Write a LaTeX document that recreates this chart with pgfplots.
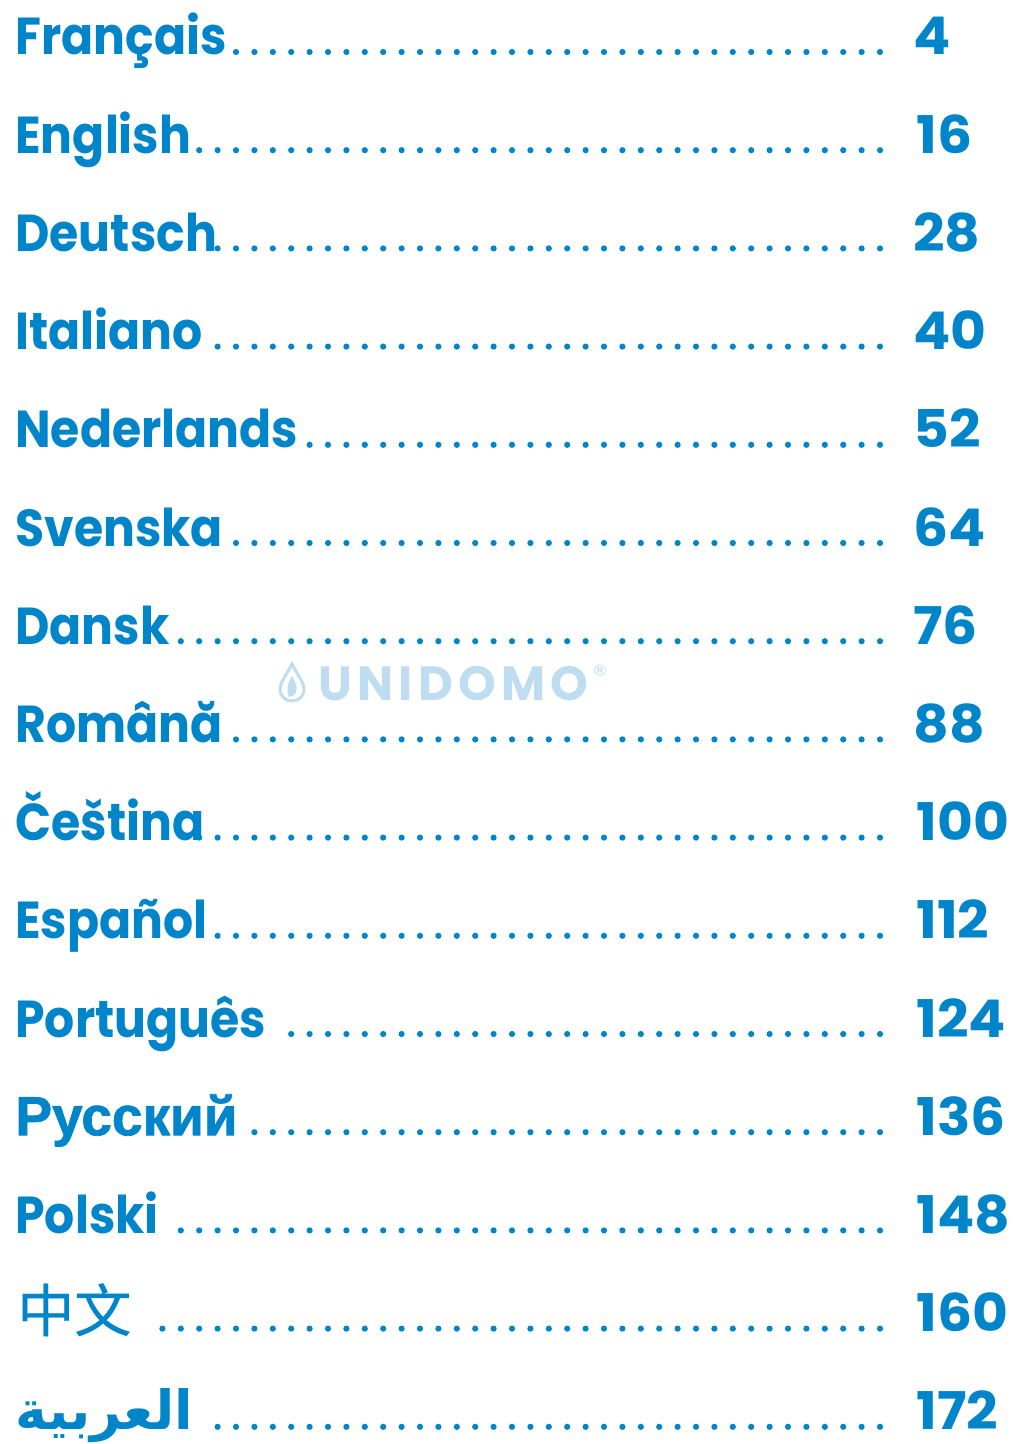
\documentclass[border=0pt]{standalone}
\usepackage{pgfplots}
\pgfplotsset{compat=1.18}
\usepackage{fontspec}
\setmainfont{Poppins}[FakeStretch=0.91]
\newfontfamily\numfont{Poppins}[FakeStretch=1.06]
\newfontfamily\wmfont{Poppins}[LetterSpace=11]
\newfontfamily\rufont{Liberation Sans}[UprightFont={* Bold}, BoldFont={* Bold}, FakeBold=1.4]
\newfontfamily\symfont{DejaVu Sans}
\newfontfamily\cjk{Noto Sans CJK SC}[FakeBold=0.6]
\newfontfamily\arabicfont[Script=Arabic]{DejaVu Sans}
\TeXXeTstate=1
\definecolor{tocblue}{HTML}{0085CA}
\definecolor{wmblue}{HTML}{BEDDF0}
\begin{document}
\begin{tikzpicture}
\begin{axis}[
  scale only axis, width=509.5pt, height=722pt,
  xmin=0, xmax=1019, ymin=0, ymax=1444, y dir=reverse,
  hide axis, clip=false,
]
\pgfplotsset{dots/.style={tocblue, line width=3.1pt, line cap=round, dash pattern=on 0pt off 9.2pt}}
\addplot[dots] coordinates {(880,52) (233,52)};
\addplot[dots] coordinates {(880,150.2) (196,150.2)};
\addplot[dots] coordinates {(880,248.4) (214,248.4)};
\addplot[dots] coordinates {(880,346.6) (214,346.6)};
\addplot[dots] coordinates {(880,444.8) (306,444.8)};
\addplot[dots] coordinates {(880,543) (233,543)};
\addplot[dots] coordinates {(880,641.2) (178,641.2)};
\addplot[dots] coordinates {(880,739.4) (233,739.4)};
\addplot[dots] coordinates {(880,837.6) (196,837.6)};
\addplot[dots] coordinates {(880,935.8) (214,935.8)};
\addplot[dots] coordinates {(880,1034) (288,1034)};
\addplot[dots] coordinates {(880,1132.2) (251,1132.2)};
\addplot[dots] coordinates {(880,1230.4) (178,1230.4)};
\addplot[dots] coordinates {(880,1328.6) (159,1328.6)};
\addplot[dots] coordinates {(880,1426.8) (214,1426.8)};
% labels
\tikzset{lab/.style={anchor=base west, inner sep=0pt, text=tocblue, font=\fontsize{26}{30}\selectfont\bfseries}}
\node[lab] at (axis cs:15,55) {Français};
\node[lab] at (axis cs:15,153.2) {English};
\node[lab] at (axis cs:15,251.4) {Deutsch};
\node[lab] at (axis cs:15,349.6) {Italiano};
\node[lab] at (axis cs:15,447.8) {Nederlands};
\node[lab] at (axis cs:15,546) {Svenska};
\node[lab] at (axis cs:15,644.2) {Dansk};
\node[lab] at (axis cs:15,742.4) {Română};
\node[lab] at (axis cs:15,840.6) {Čeština};
\node[lab] at (axis cs:15,938.8) {Español};
\node[lab] at (axis cs:15,1037) {Português};
\node[lab, font=\fontsize{27.5}{30}\selectfont\rufont] at (axis cs:15,1135.2) {Русский};
\node[lab] at (axis cs:15,1233.4) {Polski};
\node[lab, font=\fontsize{28.5}{30}\selectfont\cjk] at (axis cs:17,1331.6) {中文};
\node[lab, font=\fontsize{27}{30}\selectfont\arabicfont\bfseries] at (axis cs:15,1429.8) {\beginR العربية\endR};
% page numbers
\tikzset{num/.style={lab, font=\fontsize{26}{30}\selectfont\numfont\bfseries}}
\node[num] at (axis cs:913,55) {4};
\node[num] at (axis cs:916,153.2) {16};
\node[num] at (axis cs:913,251.4) {28};
\node[num] at (axis cs:913,349.6) {40};
\node[num] at (axis cs:913,447.8) {52};
\node[num] at (axis cs:913,546) {64};
\node[num] at (axis cs:913,644.2) {76};
\node[num] at (axis cs:913,742.4) {88};
\node[num] at (axis cs:916,840.6) {100};
\node[num] at (axis cs:916,938.8) {112};
\node[num] at (axis cs:916,1037) {124};
\node[num] at (axis cs:916,1135.2) {136};
\node[num] at (axis cs:916,1233.4) {148};
\node[num] at (axis cs:916,1331.6) {160};
\node[num] at (axis cs:916,1429.8) {172};
% watermark
\node[anchor=base west, inner sep=0pt, text=wmblue, font=\fontsize{24}{26}\selectfont\wmfont\bfseries] at (axis cs:318,700) {UNIDOMO};
\node[anchor=center, inner sep=0pt, text=wmblue, font=\fontsize{8}{8}\selectfont\symfont] at (axis cs:600,671) {®};
\draw[wmblue, line width=1.5pt] (axis cs:292,664) .. controls (axis cs:286,676) and (axis cs:280,682) .. (axis cs:280,689) .. controls (axis cs:280,697) and (axis cs:286,701) .. (axis cs:292,701) .. controls (axis cs:298,701) and (axis cs:304,697) .. (axis cs:304,689) .. controls (axis cs:304,682) and (axis cs:298,676) .. (axis cs:292,664) -- cycle;
\fill[wmblue] (axis cs:292,676) .. controls (axis cs:287,684) and (axis cs:286,690) .. (axis cs:289,697) .. controls (axis cs:295,697) and (axis cs:299,690) .. (axis cs:295,682) -- cycle;
\end{axis}
\pgfresetboundingbox
\path (0,0) rectangle (509.5pt,722pt);
\end{tikzpicture}
\end{document}
